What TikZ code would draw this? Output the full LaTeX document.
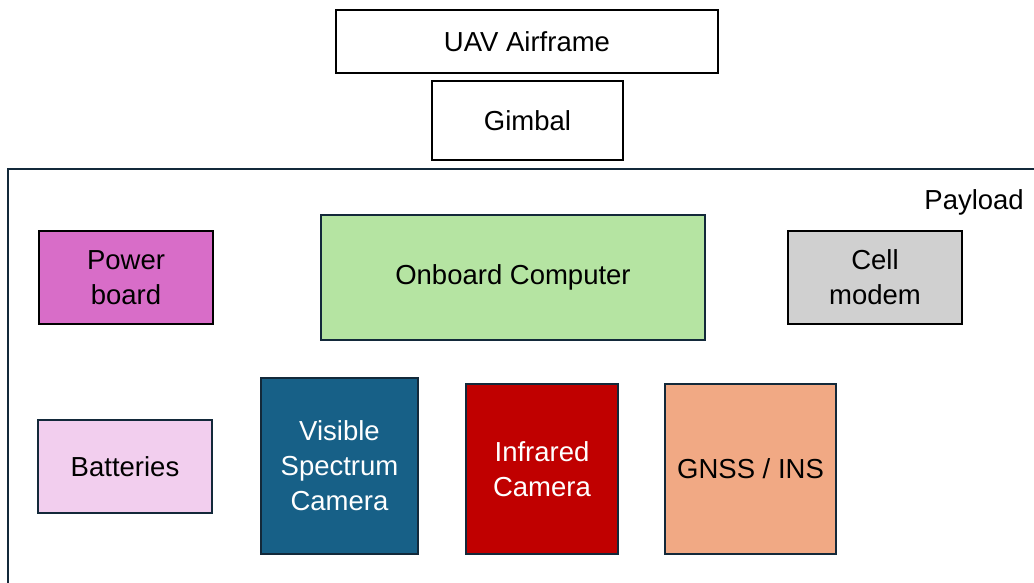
\documentclass[tikz,border=0pt]{standalone}
\usepackage{fontspec}
\setmainfont{Liberation Sans}
\definecolor{navy}{HTML}{13293A}
\definecolor{pwr}{HTML}{D86DC8}
\definecolor{comp}{HTML}{B5E4A2}
\definecolor{cell}{HTML}{D0D0D0}
\definecolor{batt}{HTML}{F2CEEE}
\definecolor{vis}{HTML}{176087}
\definecolor{ir}{HTML}{C00000}
\definecolor{gnss}{HTML}{F1A984}
\begin{document}
\begin{tikzpicture}[x=1pt,y=-1pt,
  box/.style={draw=black, line width=2pt, rectangle, align=center, inner sep=0pt,
    font=\fontsize{27.5}{35}\selectfont},
  nbox/.style={box, draw=navy},
  wtext/.style={text=white}]
\useasboundingbox (0,0) rectangle (1034,583);
\begin{scope}
\clip (0,0) rectangle (1034,583);
\draw[navy, line width=2pt] (1040,169) coordinate (pr) -- (8,169) coordinate (pc) -- (8,590) coordinate (pb);
\end{scope}
\node[box, fill=white, minimum width=382, minimum height=63] (uav) at (527,41.5) {UAV Airframe};
\node[box, fill=white, minimum width=191, minimum height=79] (gimbal) at (527.5,120.5) {Gimbal};
\node[anchor=east, font=\fontsize{27.5}{35}\selectfont, inner sep=0pt] (payload) at (1024,202) {Payload};
\node[box, fill=pwr, minimum width=174, minimum height=93] (power) at (126,277.5) {Power\\board};
\node[nbox, fill=comp, minimum width=384, minimum height=125] (computer) at (513,277.5) {Onboard Computer};
\node[box, fill=cell, minimum width=174, minimum height=93] (modem) at (875,277.5) {Cell\\modem};
\node[nbox, fill=batt, minimum width=174, minimum height=93] (batteries) at (125,466.5) {Batteries};
\node[nbox, fill=vis, wtext, minimum width=157, minimum height=176] (visible) at (339.5,466) {Visible\\Spectrum\\Camera};
\node[nbox, fill=ir, wtext, minimum width=152, minimum height=170] (infrared) at (542,469) {Infrared\\Camera};
\node[nbox, fill=gnss, minimum width=171, minimum height=170] (gnss) at (750.5,469) {GNSS / INS};
\end{tikzpicture}
\end{document}
